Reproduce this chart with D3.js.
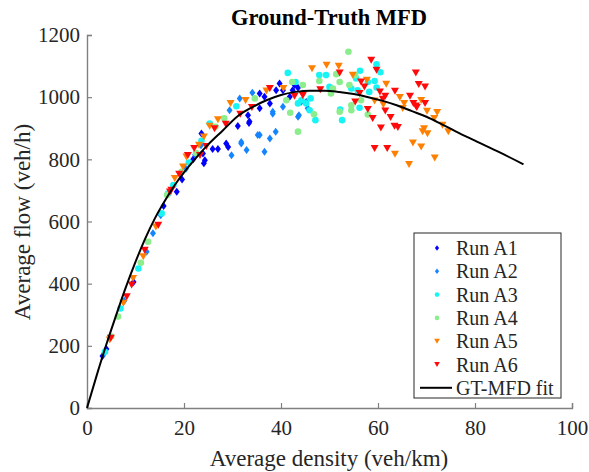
<!DOCTYPE html>
<html>
<head>
<meta charset="utf-8">
<script src="https://cdn.jsdelivr.net/npm/d3@7"></script>
<style>
  body { margin: 0; background: #fff; }
  text { font-family: "Liberation Serif", "Times New Roman", "DejaVu Serif", serif; fill: #262626; }
</style>
</head>
<body>
<div id="chart"></div>
<script>
// Scatter data per run: [density (veh/km), flow (veh/h)]
const runA1 = [[3.2,167],[4.0,190],[9.6,405],[15.8,650],[18.5,696],[19.6,735],[21.9,800],[23.6,883],[23.9,819],[24.3,797],
  [24.1,787],[25.9,833],[27.0,833],[28.7,851],[29.1,840],[31.1,907],[33.2,942],[33.4,917],[33.5,922],[35.6,964],
  [35.6,1012],[36.6,1001],[37.7,980],[39.0,1022],[39.7,1044],[40.4,1022],[41.8,1001],[42.4,1022],[42.8,1039],[43.5,1030]];
const runA2 = [[3.5,175],[7.7,345],[12.3,503],[13.6,562],[15.2,620],[16.9,690],[20.4,770],[22.3,815],[23.5,845],[29.4,958],
  [29.8,813],[31.5,996],[31.8,851],[32.9,830],[34.1,1014],[35.2,878],[35.6,878],[36.6,824],[37.7,867],[38.3,947],
  [38.3,953],[38.9,889],[40.4,969],[43.5,937],[43.7,942],[44.2,985],[44.5,1012],[45.2,985],[45.5,964],[31.8,856]];
const runA3 = [[3.7,181],[6.9,320],[10.6,449],[15.4,626],[16.7,690],[17.8,717],[21.0,790],[23.6,860],[25.3,915],[30.8,971],
  [41.4,1078],[43.0,1049],[43.5,980],[44.2,990],[45.2,980],[45.9,958],[46.1,996],[47.1,926],[47.9,1071],[49.3,1071],
  [50.0,1033],[52.2,960],[52.6,926],[54.5,1028],[55.5,1060],[55.8,1022],[56.2,966],[56.3,1085],[57.9,1049],[58.2,1017],
  [59.3,1052],[59.7,1106],[59.7,1031],[60.5,1080]];
const runA4 = [[5.0,230],[6.4,294],[11.1,467],[12.6,535],[16.5,685],[19.5,760],[22.5,820],[26.5,905],[28.3,932],[34.6,996],
  [41.1,990],[41.9,950],[42.3,1049],[43.5,889],[44.5,1039],[46.8,945],[47.9,1052],[50.3,1012],[50.7,1028],[51.4,1074],
  [52.1,1049],[52.1,953],[53.9,1146],[54.1,1039],[54.5,974],[54.5,958],[55.3,1071],[56.5,990],[57.9,944]];
const runA5 = [[4.7,219],[7.5,337],[9.5,417],[11.6,487],[14.2,583],[18.1,739],[19.8,776],[20.5,808],[23.1,846],[24.1,872],
  [25.3,907],[27.0,928],[29.6,980],[32.7,990],[37.0,1020],[40.5,1028],[46.4,1092],[49.4,1103],[51.9,1100],[54.8,1071],
  [57.7,1055],[59.3,988],[61.1,976],[61.7,1042],[63.5,817],[64.5,999],[65.1,964],[65.4,980],[66.4,784],[67.2,853],
  [68.9,990],[68.9,840],[69.2,889],[69.5,899],[70.1,955],[70.2,883],[71.6,932],[71.7,805],[72.2,951],[73.3,910],[74.5,889]];
const runA6 = [[4.9,225],[8.2,358],[9.2,396],[11.9,508],[14.7,588],[17.1,695],[17.4,701],[19.0,752],[20.8,813],[22.1,835],
  [23.3,813],[24.6,842],[26.3,899],[28.6,913],[31.6,945],[34.0,967],[37.7,1028],[42.8,1003],[44.5,1006],[48.1,1024],
  [52.1,1078],[55.3,985],[56.2,1012],[56.5,1049],[57.2,1033],[57.9,961],[58.6,1119],[58.9,932],[59.3,835],[59.7,1087],
  [60.4,1017],[60.6,901],[61.0,994],[61.5,1003],[61.5,956],[61.9,835],[62.6,935],[63.4,907],[63.5,1019],[64.1,903],
  [66.6,1003],[67.3,980],[67.8,972],[67.8,1078],[68.4,1041],[68.0,967],[69.7,1033],[69.7,980]];

// GT-MFD fit curve
const fitDensity = [0,2,4,6,8,10,12,14,16,18,20,22,25,28,31,34,37,40,43,46,49,52,55,58,61,64,67,70,73,76,80,85,90];
const fitFlow = [0,105,205,298,388,470,545,610,665,715,758,796,848,893,938,967,990,1007,1017,1021,1021,1017,1010,1000,988,973,955,937,914,890,860,823,784];

const runNames = ["Run A1","Run A2","Run A3","Run A4","Run A5","Run A6"];
const runColors = ["#0000ff","#1484ff","#18f4f4","#8ced8c","#ff8000","#ff0a0a"];
const runShapes = ["diamond","diamond","circle","circle","tri","tri"];
const runs = [runA1, runA2, runA3, runA4, runA5, runA6];

const xTicks = [0,20,40,60,80,100];
const yTicks = [0,200,400,600,800,1000,1200];

const W = 589, H = 472;
const svg = d3.select("#chart").append("svg")
  .attr("width", W)
  .attr("height", H);

const x = d3.scaleLinear().domain([0, 100]).range([87, 572]);
const y = d3.scaleLinear().domain([0, 1200]).range([408, 35]);

// marker paths
function shapePath(shape, s) {
  if (shape === "diamond") return `M0,${-4*s}L${3*s},0L0,${4*s}L${-3*s},0Z`;
  if (shape === "tri") return `M${-4*s},${-3.4*s}L${4*s},${-3.4*s}L0,${3.6*s}Z`;
  return null;
}
function addMarker(g, shape, color, s) {
  if (shape === "circle") {
    g.append("circle").attr("r", 3.3 * s).attr("fill", color);
  } else {
    g.append("path").attr("d", shapePath(shape, s)).attr("fill", color);
  }
}

// axes
const xAxis = svg.append("g")
  .attr("transform", `translate(0,${y(0)})`)
  .call(d3.axisBottom(x).tickValues(xTicks).tickFormat(d3.format("d")).tickSize(-5).tickPadding(12));
const yAxis = svg.append("g")
  .attr("transform", `translate(${x(0)},0)`)
  .call(d3.axisLeft(y).tickValues(yTicks).tickFormat(d3.format("d")).tickSize(-5).tickPadding(7));
[xAxis, yAxis].forEach(a => {
  a.attr("font-family", null);
  a.select(".domain").attr("stroke", "#808080").attr("stroke-width", 1.4);
  a.selectAll(".tick line").attr("stroke", "#808080").attr("stroke-width", 1.2);
  a.selectAll(".tick text").style("font-size", "21px").attr("fill", "#262626");
});

// scatter points
runs.forEach((data, i) => {
  svg.append("g").selectAll("g")
    .data(data)
    .enter()
    .append("g")
    .attr("transform", d => `translate(${x(d[0])},${y(d[1])})`)
    .each(function() { addMarker(d3.select(this), runShapes[i], runColors[i], 1); });
});

// fit line
const line = d3.line()
  .x((d, i) => x(fitDensity[i]))
  .y(d => y(d))
  .curve(d3.curveMonotoneX);
svg.append("path")
  .datum(fitFlow)
  .attr("d", line)
  .attr("fill", "none")
  .attr("stroke", "#000")
  .attr("stroke-width", 2);

// title and labels
svg.append("text")
  .attr("x", 329).attr("y", 25)
  .attr("text-anchor", "middle")
  .style("font-size", "22.5px")
  .style("font-weight", "bold")
  .style("fill", "#000")
  .text("Ground-Truth MFD");

svg.append("text")
  .attr("x", 329).attr("y", 466)
  .attr("text-anchor", "middle")
  .style("font-size", "23px")
  .text("Average density (veh/km)");

svg.append("text")
  .attr("transform", "translate(30,222) rotate(-90)")
  .attr("text-anchor", "middle")
  .style("font-size", "23px")
  .text("Average flow (veh/h)");

// legend
const legend = svg.append("g");
legend.append("rect")
  .attr("x", 414).attr("y", 233)
  .attr("width", 147).attr("height", 165)
  .attr("fill", "#fff")
  .attr("stroke", "#262626")
  .attr("stroke-width", 1);

const rowY = i => 248 + i * 23.3;
runNames.forEach((name, i) => {
  const g = legend.append("g").attr("transform", `translate(437,${rowY(i)})`);
  addMarker(g, runShapes[i], runColors[i], 0.7);
  legend.append("text")
    .attr("x", 456).attr("y", rowY(i))
    .attr("dy", "0.35em")
    .style("font-size", "20px")
    .text(name);
});
legend.append("line")
  .attr("x1", 420).attr("x2", 452)
  .attr("y1", rowY(6)).attr("y2", rowY(6))
  .attr("stroke", "#000").attr("stroke-width", 2);
legend.append("text")
  .attr("x", 456).attr("y", rowY(6))
  .attr("dy", "0.35em")
  .style("font-size", "20px")
  .text("GT-MFD fit");
</script>
</body>
</html>
